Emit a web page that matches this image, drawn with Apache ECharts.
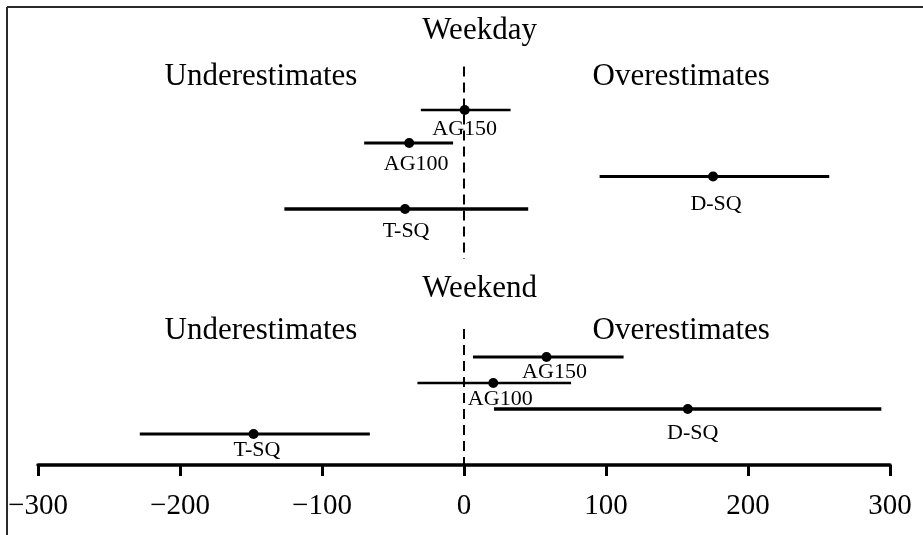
<!DOCTYPE html>
<html>
<head>
<meta charset="utf-8">
<script src="https://cdn.jsdelivr.net/npm/echarts@6/dist/echarts.min.js"></script>
<style>
  html, body { margin: 0; padding: 0; background: #fff; }
  #chart { width: 923px; height: 535px; }
</style>
</head>
<body>
<div id="chart"></div>
<script>
// ---- data ----
const methods = ['AG150', 'AG100', 'D-SQ', 'T-SQ'];
const weekdayEst  = [0.5, -38.6, 175.4, -41.5];
const weekdayLow  = [-30.4, -70.3, 95.5, -126.5];
const weekdayHigh = [32.8, -7.7, 257.2, 45.2];
const weekendEst  = [58.1, 20.6, 157.6, -148.2];
const weekendLow  = [6.3, -32.8, 21.1, -228.3];
const weekendHigh = [112.4, 75.4, 293.9, -66.3];
// vertical level of each row (arbitrary units, 0 = axis)
const weekdayRow = [35.5, 32.2, 28.85, 25.6];
const weekendRow = [10.8, 8.2, 5.6, 3.1];
const groupTitles = ['Weekday', 'Weekend'];
const sideTitles = ['Underestimates', 'Overestimates'];
const xMin = -300, xMax = 300, xStep = 100;

// ---- layout / style (not data) ----
const weekdayWidth = [2.5, 3, 3, 3.5];
const weekendWidth = [3, 2.3, 3.5, 3];
const weekdayLabelOffset = [[0, 19.5], [7, 21.5], [3, 27.5], [1, 22]];
const weekendLabelOffset = [[8, 15], [7, 16.5], [5, 24.5], [3.5, 16]];
const titleLevel = [43.45, 17.6];
const sideLevel = [38.85, 13.4];
const titleX = 11, sideX = [-143, 153];
const dashSegments = [[39.85, 20.6], [13.6, 0]];
const serif = '"Liberation Serif", "DejaVu Serif", serif';

const barData = [];
const pointData = [];
function addGroup(est, lo, hi, row, widths, offs) {
  for (let i = 0; i < methods.length; i++) {
    barData.push({ value: [lo[i], hi[i], row[i]], lw: widths[i] });
    pointData.push({
      value: [est[i], row[i]],
      name: methods[i],
      label: { offset: offs[i] }
    });
  }
}
addGroup(weekdayEst, weekdayLow, weekdayHigh, weekdayRow, weekdayWidth, weekdayLabelOffset);
addGroup(weekendEst, weekendLow, weekendHigh, weekendRow, weekendWidth, weekendLabelOffset);

const textData = [];
for (let g = 0; g < groupTitles.length; g++) {
  textData.push({ value: [titleX, titleLevel[g]], name: groupTitles[g] });
  textData.push({ value: [sideX[0], sideLevel[g]], name: sideTitles[0] });
  textData.push({ value: [sideX[1], sideLevel[g]], name: sideTitles[1] });
}

const chart = echarts.init(document.getElementById('chart'), null, { renderer: 'canvas' });
chart.setOption({
  animation: false,
  backgroundColor: '#ffffff',
  grid: { left: 38, right: 33, top: 10, bottom: 70, containLabel: false },
  xAxis: {
    type: 'value', min: xMin, max: xMax, interval: xStep,
    axisLine: { show: true, onZero: false, lineStyle: { color: '#000', width: 3.5 } },
    axisTick: { show: true, inside: false, length: 11, lineStyle: { color: '#000', width: 3 } },
    splitLine: { show: false },
    axisLabel: {
      color: '#000', fontSize: 29, fontFamily: serif, margin: 27,
      formatter: v => v < 0 ? '\u2212' + Math.abs(v) : String(v)
    }
  },
  yAxis: { type: 'value', min: 0, max: 45.5, show: false },
  graphic: [
    { type: 'line', shape: { x1: 7, y1: 7, x2: 923, y2: 7 }, style: { stroke: '#2a2a2a', lineWidth: 2 } },
    { type: 'line', shape: { x1: 7, y1: 7, x2: 7, y2: 535 }, style: { stroke: '#2a2a2a', lineWidth: 2 } }
  ],
  series: [
    {
      type: 'custom',
      name: 'zero',
      data: dashSegments.map(s => [0, s[0], s[1]]),
      encode: { x: 0, y: [1, 2] },
      renderItem: (params, api) => {
        const a = api.coord([api.value(0), api.value(1)]);
        const b = api.coord([api.value(0), api.value(2)]);
        return {
          type: 'line',
          shape: { x1: a[0], y1: a[1], x2: b[0], y2: b[1] },
          style: { stroke: '#000', lineWidth: 2, lineDash: [10, 6] }
        };
      }
    },
    {
      type: 'custom',
      name: 'ranges',
      data: barData,
      encode: { x: [0, 1], y: 2 },
      renderItem: (params, api) => {
        const a = api.coord([api.value(0), api.value(2)]);
        const b = api.coord([api.value(1), api.value(2)]);
        return {
          type: 'line',
          shape: { x1: a[0], y1: a[1], x2: b[0], y2: b[1] },
          style: { stroke: '#000', lineWidth: barData[params.dataIndex].lw }
        };
      }
    },
    {
      type: 'scatter',
      name: 'estimates',
      data: pointData,
      symbol: 'circle',
      symbolSize: 10,
      itemStyle: { color: '#000', opacity: 1 },
      z: 5,
      label: {
        show: true, position: 'inside', formatter: '{b}',
        color: '#000', fontSize: 22, fontFamily: serif,
        align: 'center', verticalAlign: 'middle'
      }
    },
    {
      type: 'scatter',
      name: 'titles',
      data: textData,
      symbolSize: 0,
      silent: true,
      itemStyle: { opacity: 1 },
      label: {
        show: true, position: 'inside', formatter: '{b}',
        color: '#000', fontSize: 31, fontFamily: serif,
        align: 'center', verticalAlign: 'middle'
      }
    }
  ]
});
</script>
</body>
</html>
